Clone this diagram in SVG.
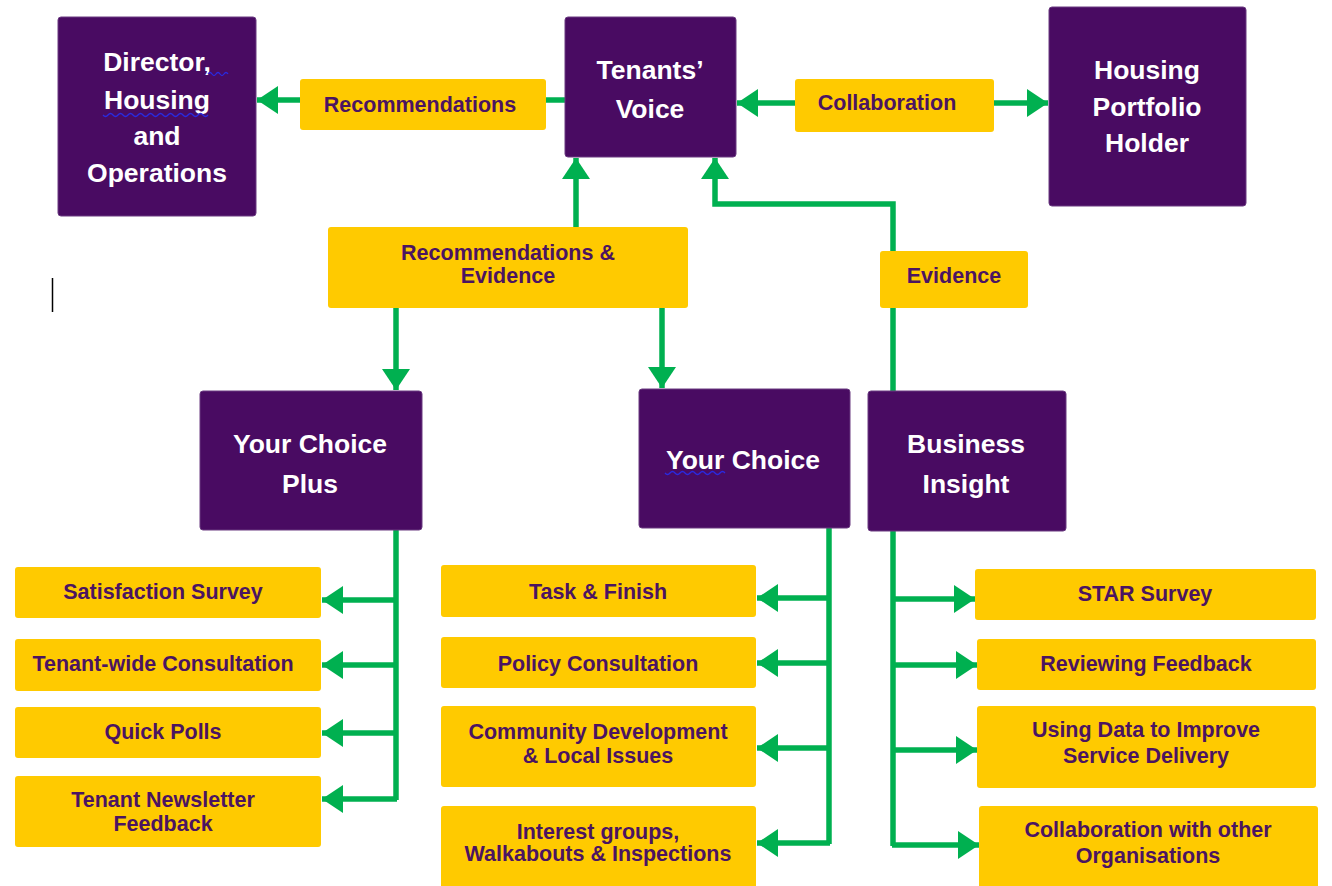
<svg xmlns="http://www.w3.org/2000/svg" width="1332" height="886" viewBox="0 0 1332 886">
<style>
.p{fill:#490B62;stroke:#6A3A80;stroke-width:1}
.y{fill:#FFCA00}
.pt{font-family:"Liberation Sans",Arial,sans-serif;font-weight:bold;font-size:26.5px;fill:#FFFFFF;text-anchor:middle}
.yt{font-family:"Liberation Sans",Arial,sans-serif;font-weight:bold;font-size:21.5px;fill:#4B1461;text-anchor:middle}
.c{fill:none;stroke:#00B050;stroke-width:5.5}
.sq{fill:none;stroke:#2A2AE0;stroke-width:1.3}
</style>
<defs>
<marker id="ah" markerUnits="userSpaceOnUse" markerWidth="21" markerHeight="28" refX="21" refY="14" orient="auto-start-reverse">
<path d="M0,0 L21,14 L0,28 Z" fill="#00B050"/>
</marker>
</defs>
<rect width="1332" height="886" fill="#FFFFFF"/>
<g id="connectors">
<path class="c" d="M565,100 H257" marker-end="url(#ah)"/>
<path class="c" d="M737,103 H1048" marker-start="url(#ah)" marker-end="url(#ah)"/>
<path class="c" d="M576,227 V158" marker-end="url(#ah)"/>
<path class="c" d="M893,391 V204 H715 V158" marker-end="url(#ah)"/>
<path class="c" d="M396,308 V390" marker-end="url(#ah)"/>
<path class="c" d="M662,308 V388" marker-end="url(#ah)"/>
<path class="c" d="M396,530 V800"/>
<path class="c" d="M397,600 H322" marker-end="url(#ah)"/>
<path class="c" d="M397,665 H322" marker-end="url(#ah)"/>
<path class="c" d="M397,733 H322" marker-end="url(#ah)"/>
<path class="c" d="M397,799 H322" marker-end="url(#ah)"/>
<path class="c" d="M829,528 V844"/>
<path class="c" d="M830,598 H757" marker-end="url(#ah)"/>
<path class="c" d="M830,663 H757" marker-end="url(#ah)"/>
<path class="c" d="M830,748 H757" marker-end="url(#ah)"/>
<path class="c" d="M830,843 H757" marker-end="url(#ah)"/>
<path class="c" d="M893,530 V846"/>
<path class="c" d="M892,599 H975" marker-end="url(#ah)"/>
<path class="c" d="M892,665 H977" marker-end="url(#ah)"/>
<path class="c" d="M892,750 H977" marker-end="url(#ah)"/>
<path class="c" d="M892,845 H979" marker-end="url(#ah)"/>
</g>
<g id="director">
<rect class="p" x="58" y="17" width="198" height="199" rx="3"/>
<text class="pt" x="157" y="71">Director,</text>
<text class="pt" x="157" y="109">Housing</text>
<text class="pt" x="157" y="145">and</text>
<text class="pt" x="157" y="182">Operations</text>
<path class="sq" d="M208,74 q2,-3 4,0 t4,0 t4,0 t4,0 t4,0"/>
<path class="sq" d="M103,115 q2.5,3 5,0 t5,0 t5,0 t5,0 t5,0 t5,0 t5,0 t5,0 t5,0 t5,0 t5,0 t5,0 t5,0 t5,0 t5,0 t5,0 t5,0 t5,0 t5,0 t5,0 t5,0"/>
</g>
<g id="tenants-voice">
<rect class="p" x="565" y="17" width="171" height="140" rx="3"/>
<text class="pt" x="650" y="79">Tenants’</text>
<text class="pt" x="650" y="118">Voice</text>
</g>
<g id="housing-portfolio-holder">
<rect class="p" x="1049" y="7" width="197" height="199" rx="3"/>
<text class="pt" x="1147" y="79">Housing</text>
<text class="pt" x="1147" y="116">Portfolio</text>
<text class="pt" x="1147" y="152">Holder</text>
</g>
<g id="recommendations">
<rect class="y" x="300" y="79" width="246" height="51" rx="3"/>
<text class="yt" x="420" y="112">Recommendations</text>
</g>
<g id="collaboration">
<rect class="y" x="795" y="79" width="199" height="53" rx="3"/>
<text class="yt" x="887" y="110">Collaboration</text>
</g>
<g id="recommendations-evidence">
<rect class="y" x="328" y="227" width="360" height="81" rx="3"/>
<text class="yt" x="508" y="260">Recommendations &amp;</text>
<text class="yt" x="508" y="283">Evidence</text>
</g>
<g id="evidence">
<rect class="y" x="880" y="251" width="148" height="57" rx="3"/>
<text class="yt" x="954" y="283">Evidence</text>
</g>
<g id="your-choice-plus">
<rect class="p" x="200" y="391" width="222" height="139" rx="3"/>
<text class="pt" x="310" y="453">Your Choice</text>
<text class="pt" x="310" y="493">Plus</text>
</g>
<g id="your-choice">
<rect class="p" x="639" y="389" width="211" height="139" rx="3"/>
<text class="pt" x="743" y="469">Your Choice</text>
<path class="sq" d="M665,473 q2.5,3 5,0 t5,0 t5,0 t5,0 t5,0 t5,0 t5,0 t5,0 t5,0 t5,0 t5,0 t5,0"/>
</g>
<g id="business-insight">
<rect class="p" x="868" y="391" width="198" height="140" rx="3"/>
<text class="pt" x="966" y="453">Business</text>
<text class="pt" x="966" y="493">Insight</text>
</g>
<g id="satisfaction-survey">
<rect class="y" x="15" y="567" width="306" height="51" rx="3"/>
<text class="yt" x="163" y="599">Satisfaction  Survey</text>
</g>
<g id="tenant-wide-consultation">
<rect class="y" x="15" y="639" width="306" height="52" rx="3"/>
<text class="yt" x="163" y="671">Tenant-wide Consultation</text>
</g>
<g id="quick-polls">
<rect class="y" x="15" y="707" width="306" height="51" rx="3"/>
<text class="yt" x="163" y="739">Quick Polls</text>
</g>
<g id="tenant-newsletter-feedback">
<rect class="y" x="15" y="776" width="306" height="71" rx="3"/>
<text class="yt" x="163" y="807">Tenant Newsletter</text>
<text class="yt" x="163" y="831">Feedback</text>
</g>
<g id="task-finish">
<rect class="y" x="441" y="565" width="315" height="52" rx="3"/>
<text class="yt" x="598" y="599">Task &amp; Finish</text>
</g>
<g id="policy-consultation">
<rect class="y" x="441" y="637" width="315" height="51" rx="3"/>
<text class="yt" x="598" y="671">Policy Consultation</text>
</g>
<g id="community-development">
<rect class="y" x="441" y="706" width="315" height="81" rx="3"/>
<text class="yt" x="598" y="739">Community Development</text>
<text class="yt" x="598" y="763">&amp; Local Issues</text>
</g>
<g id="interest-groups">
<rect class="y" x="441" y="806" width="315" height="84" rx="3"/>
<text class="yt" x="598" y="839">Interest groups,</text>
<text class="yt" x="598" y="861">Walkabouts &amp; Inspections</text>
</g>
<g id="star-survey">
<rect class="y" x="975" y="569" width="341" height="51" rx="3"/>
<text class="yt" x="1145" y="601">STAR Survey</text>
</g>
<g id="reviewing-feedback">
<rect class="y" x="977" y="639" width="339" height="51" rx="3"/>
<text class="yt" x="1146" y="671">Reviewing Feedback</text>
</g>
<g id="using-data">
<rect class="y" x="977" y="706" width="339" height="82" rx="3"/>
<text class="yt" x="1146" y="737">Using Data to Improve</text>
<text class="yt" x="1146" y="763">Service Delivery</text>
</g>
<g id="collaboration-other">
<rect class="y" x="979" y="806" width="339" height="84" rx="3"/>
<text class="yt" x="1148" y="837">Collaboration with other</text>
<text class="yt" x="1148" y="863">Organisations</text>
</g>
<line x1="52.5" y1="278" x2="52.5" y2="312" stroke="#000000" stroke-width="1.5"/>
</svg>
